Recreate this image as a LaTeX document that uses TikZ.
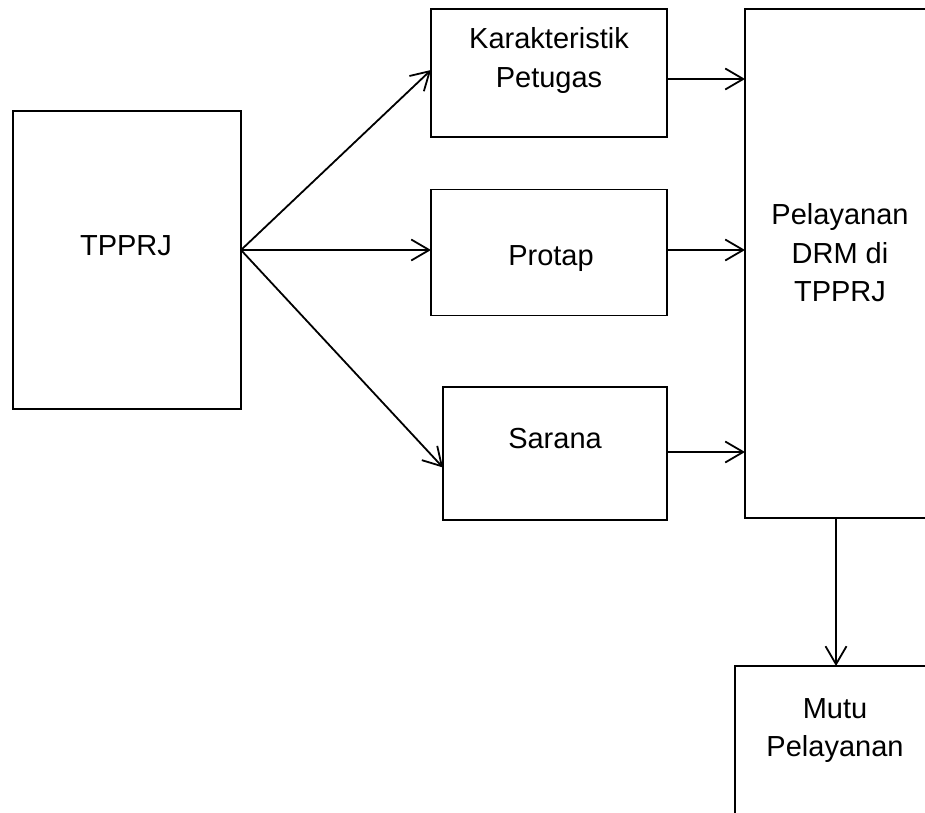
\documentclass[tikz,border=0pt]{standalone}
\usepackage{fontspec}
\setmainfont{Liberation Sans}
\usetikzlibrary{arrows.meta,calc}
\begin{document}
\begin{tikzpicture}[x=1pt,y=-1pt,
  box/.style={draw=black,line width=1.8pt,rectangle,inner sep=0pt,outer sep=0pt},
  lbl/.style={anchor=base,inner sep=0pt,font=\fontsize{29}{38}\selectfont},
  arr/.style={line width=1.8pt,-{Straight Barb[length=18pt,width=21pt,line width=1.8pt]}}]
\useasboundingbox (0,0) rectangle (925,812);
\clip (0,0) rectangle (925,812);
% boxes
\node[box,minimum width=228pt,minimum height=298pt] (tp) at (127,260) {};
\node[box,minimum width=236pt,minimum height=128pt] (kar) at (549,73) {};
\node[box,minimum width=236pt,minimum height=126pt] (pro) at (549,252.5) {};
\node[box,minimum width=224pt,minimum height=133pt] (sar) at (555,453.5) {};
\node[box,minimum width=192pt,minimum height=509pt] (pel) at (841,263.5) {};
\node[box,minimum width=200pt,minimum height=200pt] (mut) at (835,766) {};
% texts
\node[lbl] (t1) at (126,255) {TPPRJ};
\node[lbl] (t2) at (549,48) {Karakteristik};
\node[lbl] (t3) at (549,87) {Petugas};
\node[lbl] (t4) at (551,265) {Protap};
\node[lbl] (t5) at (555,448) {Sarana};
\node[lbl] (t6) at (840,224) {Pelayanan};
\node[lbl] (t7) at (840,263) {DRM di};
\node[lbl] (t8) at (840,301) {TPPRJ};
\node[lbl] (t9) at (835,718) {Mutu};
\node[lbl] (t10) at (835,756) {Pelayanan};
% connectors
\coordinate (s0) at ($(tp.east)+(0,-10)$);
\coordinate (e1) at ($(kar.west)+(0,-3)$);
\coordinate (e2) at ($(pro.west)+(0,-2.5)$);
\coordinate (e3) at ($(sar.west)+(0,14)$);
\draw[arr] (s0) -- (e1);
\draw[arr] (s0) -- (e2);
\draw[arr] (s0) -- (e3);
\coordinate (k1) at ($(kar.east)+(0,6)$);
\coordinate (p1) at ($(pro.east)+(0,-2.5)$);
\coordinate (q1) at ($(sar.east)+(0,-1.5)$);
\draw[arr] (k1) -- (k1 -| pel.west);
\draw[arr] (p1) -- (p1 -| pel.west);
\draw[arr] (q1) -- (q1 -| pel.west);
\coordinate (d1) at (836,0);
\draw[arr] (d1 |- pel.south) -- (d1 |- mut.north);
\end{tikzpicture}
\end{document}
